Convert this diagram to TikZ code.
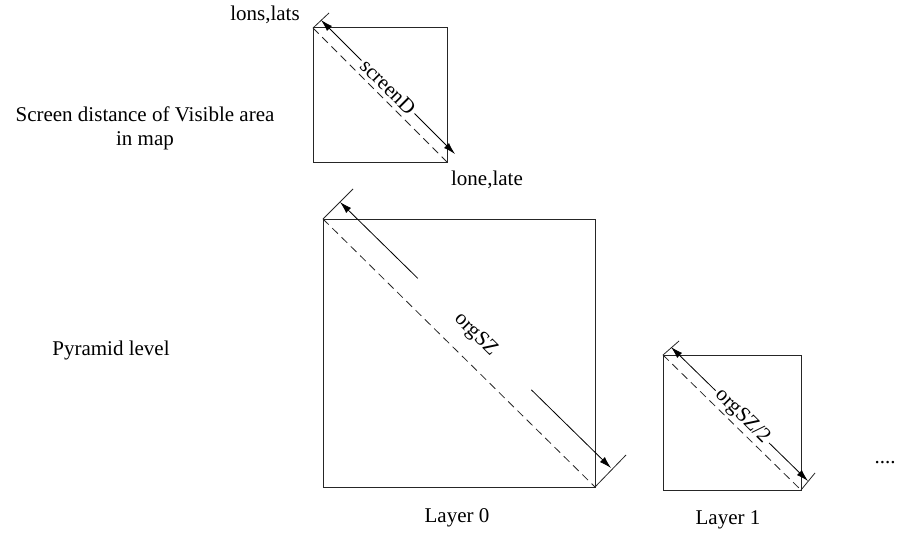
\documentclass[tikz,border=0pt]{standalone}
\usepackage{fontspec}
\setmainfont{Liberation Serif}
\usetikzlibrary{calc,arrows.meta}
\begin{document}
\begin{tikzpicture}[x=1pt,y=-1pt,
  box/.style={draw=black!85,line width=1pt,inner sep=0pt,outer sep=0pt},
  tick/.style={draw=black!85,line width=0.8pt},
  diag/.style={draw=black!85,line width=0.8pt,dash pattern=on 8pt off 5pt},
  dimline/.style={draw=black,line width=0.8pt},
  dimarrow/.style={dimline,-{Latex[length=12pt,width=7pt]}},
  dimboth/.style={dimline,{Latex[length=12pt,width=7pt]}-{Latex[length=12pt,width=7pt]}},
  lbl/.style={font=\fontsize{21}{24}\selectfont,inner sep=0pt},
  dimlbl/.style={font=\fontsize{21}{24}\selectfont,rotate=-45,fill=white,inner xsep=3pt,inner ysep=0pt}]
\useasboundingbox (0,0) rectangle (898,535);

% visible area on screen
\node[box,minimum width=134pt,minimum height=134pt] (scr) at (380,95) {};
\coordinate (scrA) at (scr.north west);
\coordinate (scrB) at (scr.south east);
\draw[tick] (scrA) -- ++(16,-15) coordinate (scrT);
\coordinate (scrD1) at ($(scrA)+(8,-8)$);
\coordinate (scrD2) at ($(scrB)+(8,-8)$);
\draw[dimboth] (scrD1) -- (scrD2) node[dimlbl,midway] (scrL) {screenD};
\draw[diag] (scrA) -- (scrB);
\node[lbl] (lonslats) at (265,15) {lons,lats};
\node[lbl] (lonelate) at (487,180) {lone,late};
\node[lbl,align=center] (screentxt) at (145,128) {Screen distance of Visible area\\in map};

% pyramid level 0
\node[box,minimum width=272pt,minimum height=268pt] (l0) at (459,353) {};
\coordinate (l0A) at (l0.north west);
\coordinate (l0B) at (l0.south east);
\draw[tick] (l0A) -- ++(30,-30) coordinate (l0T1);
\draw[tick] (l0B) -- ++(31,-32) coordinate (l0T2);
\coordinate (l0D1) at ($(l0A)+(17,-17)$);
\coordinate (l0D2) at ($(l0B)+(16,-19)$);
\draw[dimarrow] ($(l0D1)!0.287!(l0D2)$) -- (l0D1);
\draw[dimarrow] ($(l0D1)!0.706!(l0D2)$) -- (l0D2);
\node[lbl,rotate=-45] (l0L) at ($(l0D1)!0.5!(l0D2)$) {orgSZ};
\draw[diag] (l0A) -- (l0B);
\node[lbl] (layer0) at (457,518) {Layer 0};

% pyramid level 1
\node[box,minimum width=138pt,minimum height=135pt] (l1) at (732,422.5) {};
\coordinate (l1A) at (l1.north west);
\coordinate (l1B) at (l1.south east);
\draw[tick] (l1A) -- ++(16,-14) coordinate (l1T1);
\draw[tick] (l1B) -- ++(14,-17) coordinate (l1T2);
\coordinate (l1D1) at ($(l1A)+(8,-8)$);
\coordinate (l1D2) at ($(l1B)+(7,-9)$);
\draw[dimboth] (l1D1) -- (l1D2) node[dimlbl,pos=0.52] (l1L) {orgSZ/2};
\draw[diag] (l1A) -- (l1B);
\node[lbl] (layer1) at (728,520) {Layer 1};

\node[lbl] (pyr) at (111,350) {Pyramid level};
\node[lbl] (more) at (885,463) {....};
\end{tikzpicture}
\end{document}
